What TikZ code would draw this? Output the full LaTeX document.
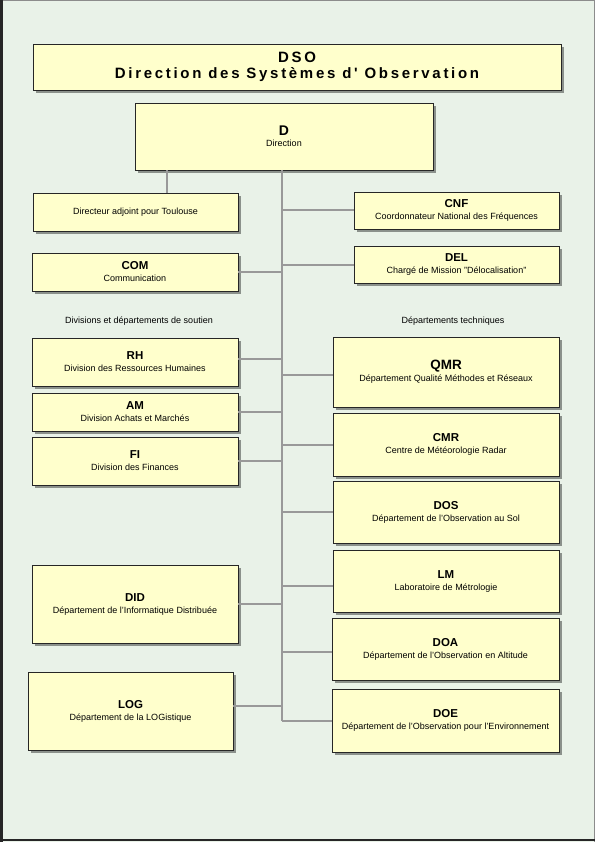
\documentclass[tikz,border=0pt]{standalone}
\usepackage{fontspec}
\setmainfont{Liberation Sans}
\newfontfamily\titlefont[LetterSpace=18]{Liberation Sans}
\usetikzlibrary{shadows}
\definecolor{bgcol}{HTML}{E9F2E8}
\definecolor{boxfill}{HTML}{FFFFCC}
\definecolor{conncol}{HTML}{999999}
\newcommand\boxttl[1]{{\fontsize{11.5}{12}\selectfont\bfseries #1}}
\newcommand\bigttl[1]{{\fontsize{13.5}{14}\selectfont\bfseries #1}}
\newcommand\boxsub[1]{{\fontsize{9}{10}\selectfont #1}}
\tikzset{
  orgbox/.style={draw=black!85, line width=0.8pt, fill=boxfill,
    drop shadow={shadow xshift=3pt, shadow yshift=-3pt, fill=black, opacity=0.4},
    align=center, inner sep=1pt, outer sep=0pt},
  conn/.style={draw=conncol, line width=2pt},
  lbl/.style={font=\fontsize{9}{10}\selectfont, inner sep=0pt}
}
\begin{document}
\begin{tikzpicture}[x=1pt, y=-1pt]
  % background and frame
  \fill[bgcol] (0,0) rectangle (595,842);
  \useasboundingbox (0,0) rectangle (595,842);
  \draw[black!45, line width=1pt] (0,0.5) -- (595,0.5);
  \draw[black!45, line width=1pt] (594.5,0) -- (594.5,842);
  \draw[black!85, line width=3pt] (1.5,0) -- (1.5,842);
  \draw[black!85, line width=2pt] (0,839.5) -- (595,839.5);

  % spine coordinates
  \coordinate (sp) at (282,0);
  \coordinate (da) at (167,0);

  % boxes
  \node[orgbox, minimum width=298pt, minimum height=67pt] (D) at (284,136.5)
    {{\fontsize{14}{15}\selectfont\bfseries D}\\[-1pt]\boxsub{Direction}};
  \node[orgbox, minimum width=205pt, minimum height=38pt] (DA) at (135.5,212)
    {\boxsub{Directeur adjoint pour Toulouse}};
  \node[orgbox, minimum width=205pt, minimum height=37pt] (CNF) at (456.5,210.5)
    {\boxttl{CNF}\\\boxsub{Coordonnateur National des Fréquences}};
  \node[orgbox, minimum width=205pt, minimum height=37pt] (DEL) at (456.5,264.5)
    {\boxttl{DEL}\\\boxsub{Chargé de Mission "Délocalisation"}};
  \node[orgbox, minimum width=206pt, minimum height=38pt] (COM) at (135,272)
    {\boxttl{COM}\\\boxsub{Communication}};
  \node[orgbox, minimum width=206pt, minimum height=48pt] (RH) at (135,362)
    {\boxttl{RH}\\\boxsub{Division des Ressources Humaines}};
  \node[orgbox, minimum width=206pt, minimum height=38pt] (AM) at (135,412)
    {\boxttl{AM}\\\boxsub{Division Achats et Marchés}};
  \node[orgbox, minimum width=206pt, minimum height=48pt] (FI) at (135,461)
    {\boxttl{FI}\\\boxsub{Division des Finances}};
  \node[orgbox, minimum width=206pt, minimum height=78pt] (DID) at (135,604)
    {\boxttl{DID}\\\boxsub{Département de l'Informatique Distribuée}};
  \node[orgbox, minimum width=205pt, minimum height=78pt] (LOG) at (130.5,711)
    {\boxttl{LOG}\\\boxsub{Département de la LOGistique}};
  \node[orgbox, minimum width=226pt, minimum height=70pt] (QMR) at (446,372)
    {\bigttl{QMR}\\\boxsub{Département Qualité Méthodes et Réseaux}};
  \node[orgbox, minimum width=226pt, minimum height=63pt] (CMR) at (446,444.5)
    {\boxttl{CMR}\\\boxsub{Centre de Météorologie Radar}};
  \node[orgbox, minimum width=226pt, minimum height=62pt] (DOS) at (446,512)
    {\boxttl{DOS}\\\boxsub{Département de l'Observation au Sol}};
  \node[orgbox, minimum width=226pt, minimum height=62pt] (LM) at (446,581)
    {\boxttl{LM}\\\boxsub{Laboratoire de Métrologie}};
  \node[orgbox, minimum width=227pt, minimum height=62pt] (DOA) at (445.5,649)
    {\boxttl{DOA}\\\boxsub{Département de l'Observation en Altitude}};
  \node[orgbox, minimum width=227pt, minimum height=63pt] (DOE) at (445.5,720.5)
    {\boxttl{DOE}\\\boxsub{Département de l'Observation pour l'Environnement}};

  \node[orgbox, minimum width=528pt, minimum height=46pt,
        font={\titlefont\fontsize{15}{16.5}\selectfont\bfseries}] (DSO) at (297,67)
    {DSO\\Direction des Systèmes d' Observation};

  % connectors
  \draw[conn] (D.south -| sp) -- (DOE.west -| sp);
  \draw[conn] (D.south -| da) -- (DA.north -| da);
  \draw[conn] (CNF.west) -- (CNF.west -| sp);
  \draw[conn] (DEL.west) -- (DEL.west -| sp);
  \draw[conn] (COM.east) -- (COM.east -| sp);
  \draw[conn] ([yshift=3pt]RH.east) -- ([yshift=3pt]RH.east -| sp);
  \draw[conn] (AM.east) -- (AM.east -| sp);
  \draw[conn] (FI.east) -- (FI.east -| sp);
  \draw[conn] (DID.east) -- (DID.east -| sp);
  \draw[conn] ([yshift=5pt]LOG.east) -- ([yshift=5pt]LOG.east -| sp);
  \draw[conn] ([yshift=-3pt]QMR.west) -- ([yshift=-3pt]QMR.west -| sp);
  \draw[conn] (CMR.west) -- (CMR.west -| sp);
  \draw[conn] (DOS.west) -- (DOS.west -| sp);
  \draw[conn] ([yshift=-5pt]LM.west) -- ([yshift=-5pt]LM.west -| sp);
  \draw[conn] ([yshift=-3pt]DOA.west) -- ([yshift=-3pt]DOA.west -| sp);
  \draw[conn] (DOE.west) -- (DOE.west -| sp);

  % group labels
  \node[lbl] (lsout) at (139,321) {Divisions et départements de soutien};
  \node[lbl] (ltech) at (453,321) {Départements techniques};
\end{tikzpicture}
\end{document}
